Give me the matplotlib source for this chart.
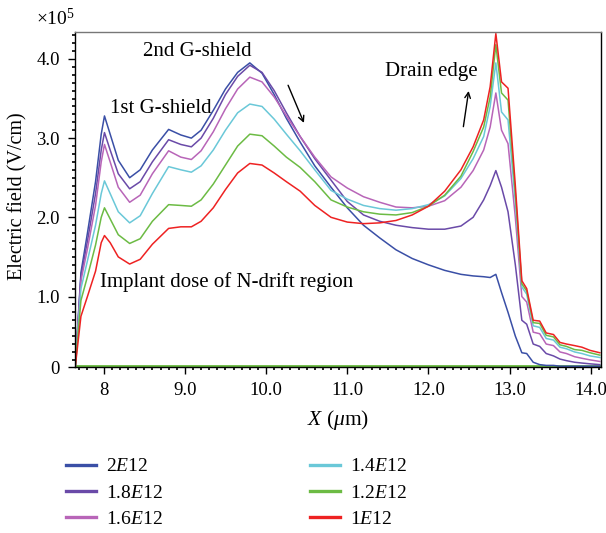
import matplotlib
matplotlib.use('Agg')
import matplotlib.pyplot as plt
from matplotlib.ticker import MultipleLocator

plt.rcParams['font.family'] = ['Liberation Serif', 'DejaVu Serif']
plt.rcParams['mathtext.fontset'] = 'custom'
plt.rcParams['mathtext.rm'] = 'Liberation Serif'
plt.rcParams['mathtext.it'] = 'Liberation Serif:italic'

# x positions (um) shared by all curves
x = [7.65, 7.72, 7.80, 7.90, 7.97, 8.01, 8.08, 8.18, 8.32, 8.45, 8.6, 8.8, 8.95, 9.08,
     9.2, 9.35, 9.5, 9.65, 9.8, 9.95, 10.1, 10.25, 10.42, 10.6, 10.8, 11.0, 11.2, 11.4,
     11.6, 11.8, 12.0, 12.2, 12.4, 12.55, 12.68, 12.76, 12.83, 12.90, 12.98, 13.07,
     13.15, 13.21, 13.29, 13.37, 13.45, 13.54, 13.62, 13.70, 13.80, 13.89, 13.99, 14.11]

# electric field (x1e5 V/cm), one list per implant dose
e_2e12 = [0.11, 1.30, 1.80, 2.45, 3.05, 3.28, 3.05, 2.72, 2.50, 2.60, 2.85, 3.11, 3.04, 3.00,
          3.10, 3.35, 3.62, 3.83, 3.95, 3.82, 3.55, 3.25, 2.95, 2.65, 2.38, 2.12, 1.90, 1.74,
          1.59, 1.48, 1.40, 1.33, 1.28, 1.26, 1.25, 1.24, 1.28, 1.05, 0.80, 0.50,
          0.29, 0.28, 0.17, 0.14, 0.13, 0.13, 0.12, 0.12, 0.12, 0.12, 0.12, 0.12]
e_18e12 = [0.11, 1.25, 1.70, 2.30, 2.85, 3.07, 2.85, 2.55, 2.36, 2.45, 2.70, 2.98, 2.92, 2.89,
           3.00, 3.25, 3.55, 3.78, 3.92, 3.83, 3.60, 3.32, 3.02, 2.74, 2.47, 2.20, 2.03, 1.95,
           1.90, 1.87, 1.85, 1.85, 1.89, 2.00, 2.22, 2.40, 2.59, 2.38, 2.07, 1.40,
           0.70, 0.65, 0.40, 0.37, 0.28, 0.25, 0.21, 0.19, 0.17, 0.16, 0.15, 0.14]
e_16e12 = [0.11, 1.20, 1.60, 2.15, 2.70, 2.92, 2.70, 2.38, 2.19, 2.28, 2.55, 2.84, 2.76, 2.73,
           2.84, 3.08, 3.37, 3.62, 3.77, 3.71, 3.52, 3.28, 3.02, 2.76, 2.51, 2.37, 2.26, 2.19,
           2.13, 2.12, 2.14, 2.21, 2.38, 2.59, 2.85, 3.14, 3.57, 3.10, 2.93, 2.00,
           1.00, 0.93, 0.55, 0.53, 0.40, 0.38, 0.30, 0.28, 0.24, 0.22, 0.20, 0.18]
e_14e12 = [0.11, 1.10, 1.45, 1.90, 2.30, 2.46, 2.30, 2.07, 1.93, 2.02, 2.30, 2.64, 2.60, 2.57,
           2.65, 2.85, 3.10, 3.32, 3.43, 3.40, 3.24, 3.05, 2.84, 2.60, 2.34, 2.23, 2.15, 2.11,
           2.09, 2.11, 2.16, 2.27, 2.49, 2.74, 3.02, 3.40, 3.95, 3.33, 3.23, 2.20,
           1.12, 1.03, 0.63, 0.61, 0.47, 0.45, 0.36, 0.34, 0.30, 0.28, 0.25, 0.23]
e_12e12 = [0.11, 0.95, 1.25, 1.65, 2.00, 2.12, 1.98, 1.78, 1.67, 1.73, 1.95, 2.16, 2.15, 2.14,
           2.22, 2.42, 2.66, 2.90, 3.05, 3.03, 2.90, 2.76, 2.63, 2.45, 2.22, 2.13, 2.07, 2.04,
           2.03, 2.06, 2.14, 2.28, 2.52, 2.83, 3.14, 3.52, 4.18, 3.57, 3.48, 2.30,
           1.16, 1.07, 0.67, 0.66, 0.51, 0.49, 0.39, 0.37, 0.33, 0.32, 0.29, 0.26]
e_1e12 = [0.11, 0.75, 1.00, 1.32, 1.68, 1.77, 1.68, 1.50, 1.41, 1.47, 1.66, 1.86, 1.88, 1.88,
          1.95, 2.12, 2.35, 2.56, 2.68, 2.66, 2.56, 2.45, 2.33, 2.15, 2.00, 1.94, 1.92, 1.93,
          1.96, 2.03, 2.14, 2.33, 2.60, 2.89, 3.23, 3.65, 4.32, 3.71, 3.63, 2.40,
          1.20, 1.10, 0.70, 0.69, 0.54, 0.52, 0.42, 0.40, 0.38, 0.36, 0.32, 0.29]

labels = [r'2$\mathit{E}$12', r'1.8$\mathit{E}$12', r'1.6$\mathit{E}$12',
          r'1.4$\mathit{E}$12', r'1.2$\mathit{E}$12', r'1$\mathit{E}$12']
series = [e_2e12, e_18e12, e_16e12, e_14e12, e_12e12, e_1e12]
colors = ['#3a4fa6', '#6a4aa8', '#b865b8', '#6ac8d8', '#6cbb44', '#ee2222']

y_zero = 0.11  # level of the "0" tick
y_ticks = [y_zero, 1.0, 2.0, 3.0, 4.0]
y_ticklabels = ['0', '1.0', '2.0', '3.0', '4.0']
x_ticks = [8, 9, 10, 11, 12, 13, 14]
x_ticklabels = ['8', '9.0', '10.0', '11.0', '12.0', '13.0', '14.0']

fig = plt.figure(figsize=(6.06, 5.33), dpi=100)
ax = fig.add_axes([75 / 606, 1 - 367 / 533, 526 / 606, 335 / 533])

# zero line along the bottom
ax.plot([7.6, 14.2], [y_zero, y_zero], color='#6cbb44', lw=3.5, solid_capstyle='butt', zorder=1)

handles = []
for ys, c, lab in zip(series, colors, labels):
    h, = ax.plot(x, ys, color=c, lw=1.1, label=lab)
    handles.append(h)

ax.set_xlim(7.647, 14.125)
ax.set_ylim(y_zero, 4.34)
ax.set_xticks(x_ticks)
ax.set_xticklabels(x_ticklabels)
ax.set_yticks(y_ticks)
ax.set_yticklabels(y_ticklabels)
ax.xaxis.set_minor_locator(MultipleLocator(0.1))
ax.yaxis.set_minor_locator(MultipleLocator(0.1))
ax.tick_params(which='major', direction='out', length=5, width=1, labelsize=13.5)
ax.tick_params(axis='x', which='major', pad=6)
ax.tick_params(axis='y', which='major', pad=6)
ax.tick_params(which='minor', direction='out', length=2.5, width=1.2)
for s in ax.spines.values():
    s.set_linewidth(1.0)
ax.spines['top'].set_color('#777777')

ax.text(9.15, 4.09, '2nd G-shield', fontsize=15, ha='center', va='center')
ax.text(8.70, 3.38, '1st G-shield', fontsize=15, ha='center', va='center')
ax.text(12.04, 3.84, 'Drain edge', fontsize=15, ha='center', va='center')
ax.text(7.955, 1.18, 'Implant dose of N-drift region', fontsize=15, ha='left', va='center')
ax.annotate('', xy=(10.48, 3.16), xytext=(10.258, 3.70),
            arrowprops=dict(arrowstyle='->', color='black', lw=1.0))
ax.annotate('', xy=(12.50, 3.63), xytext=(12.425, 3.11),
            arrowprops=dict(arrowstyle='->', color='black', lw=1.0))

fig.text(18 / 606, 1 - 196 / 533, 'Electric field (V/cm)', rotation=90,
         fontsize=14.5, ha='center', va='center')
fig.text(36 / 606, 1 - 18 / 533, r'$\times10^5$', fontsize=14, ha='left', va='center')
fig.text(338 / 606, 1 - 420 / 533, r'$X$ ($\mu$m)', fontsize=15.5, ha='center', va='center')

fig.legend(handles=handles, ncol=2, loc='upper left', bbox_to_anchor=(56 / 606, 1 - 448 / 533),
           frameon=False, fontsize=14, handlelength=1.55, handletextpad=0.5,
           columnspacing=7.6, labelspacing=0.45, borderpad=0)
for line in fig.legends[0].get_lines():
    line.set_linewidth(2.4)

fig.savefig('out.png', dpi=100)
